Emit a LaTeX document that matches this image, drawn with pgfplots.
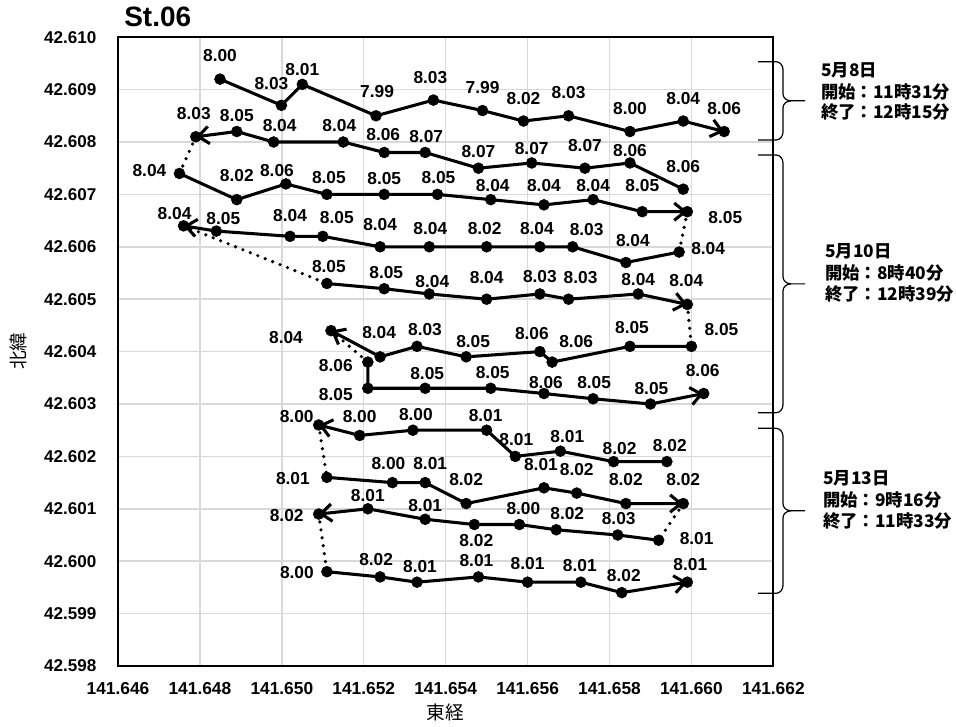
\documentclass[border=0pt]{standalone}
\usepackage{fontspec}
\setmainfont{Liberation Sans}
\newfontfamily\cjk{Noto Sans CJK JP}
\usepackage{xfp}
\usepackage{pgfplots}
\usepackage{pgfplotstable}
\pgfplotsset{compat=1.18}
\usetikzlibrary{arrows.meta}

\definecolor{gridgray}{RGB}{217,217,217}
\newcommand\lblfont{\bfseries\fontsize{13}{15}\selectfont}

% Survey track St.06: longitude, latitude, DO value/label offset (px, y up)
\pgfplotstableread{
lon lat lbl
141.64849 42.60920 8.00/0/24
141.64999 42.60870 8.03/-10/22
141.65050 42.60910 8.01/0/15
141.65230 42.60850 7.99/1/24
141.65370 42.60880 8.03/-3/23
141.65490 42.60860 7.99/0/23
141.65590 42.60840 8.02/0/23
141.65700 42.60850 8.03/0/23
141.65850 42.60820 8.00/0/23
141.65980 42.60840 8.04/0/23
141.66080 42.60820 8.06/0/23
}\trackA
\pgfplotstableread{
lon lat lbl
141.65980 42.60710 8.06/0/23
141.65850 42.60760 8.06/0/12
141.65740 42.60750 8.07/0/23
141.65610 42.60760 8.07/0/14
141.65480 42.60750 8.07/0/17
141.65350 42.60780 8.07/1/16
141.65250 42.60780 8.06/-1/18
141.65150 42.60800 8.04/-4/16
141.64980 42.60800 8.04/6/16
141.64890 42.60820 8.05/0/16
141.64790 42.60810 8.03/-2/23
}\trackB
\pgfplotstableread{
lon lat lbl
141.64750 42.60740 8.04/-30/3
141.64890 42.60690 8.02/0/24
141.65010 42.60720 8.06/-9/13
141.65110 42.60700 8.05/2/17
141.65250 42.60700 8.05/0/16
141.65380 42.60700 8.05/1/17
141.65510 42.60690 8.04/2/14
141.65640 42.60680 8.04/0/19
141.65760 42.60690 8.04/0/14
141.65880 42.60667 8.05/0/26
141.65990 42.60667 8.05/38/-6
}\trackC
\pgfplotstableread{
lon lat lbl
141.65970 42.60590 8.04/29/4
141.65840 42.60570 8.04/7/22
141.65710 42.60600 8.03/14/17
141.65630 42.60600 8.04/-3/18
141.65500 42.60600 8.02/-2/18
141.65360 42.60600 8.04/1/18
141.65240 42.60600 8.04/0/22
141.65100 42.60620 8.05/14/19
141.65020 42.60620 8.04/0/21
141.64840 42.60630 8.05/7/13
141.64760 42.60640 8.04/-9/12
}\trackD
\pgfplotstableread{
lon lat lbl
141.65110 42.60530 8.05/2/17
141.65250 42.60520 8.05/2/16
141.65360 42.60510 8.04/3/12
141.65500 42.60500 8.04/0/22
141.65630 42.60510 8.03/0/17
141.65700 42.60500 8.03/12/22
141.65870 42.60510 8.04/0/14
141.65990 42.60490 8.04/-1/24
}\trackE
\pgfplotstableread{
lon lat lbl
141.66000 42.60410 8.05/30/17
141.65850 42.60410 8.05/2/19
141.65660 42.60380 8.06/24/21
141.65630 42.60400 8.06/-8/18
141.65450 42.60390 8.05/7/15
141.65330 42.60410 8.03/8/17
141.65240 42.60390 8.04/-1/24
141.65120 42.60440 8.04/-45/-7
}\trackF
\pgfplotstableread{
lon lat lbl
141.65210 42.60380 8.06/-32/-3
141.65210 42.60330 8.05/-32/-6
141.65350 42.60330 8.05/2/15
141.65510 42.60330 8.05/2/16
141.65640 42.60320 8.06/2/11
141.65760 42.60310 8.05/1/16
141.65900 42.60300 8.05/1/15
141.66030 42.60320 8.06/-1/23
}\trackG
\pgfplotstableread{
lon lat lbl
141.65940 42.60190 8.02/3/16
141.65810 42.60190 8.02/6/13
141.65680 42.60210 8.01/7/15
141.65570 42.60200 8.01/1/17
141.65500 42.60250 8.01/-1/15
141.65320 42.60250 8.00/3/16
141.65190 42.60240 8.00/0/19
141.65090 42.60260 8.00/-22/8
}\trackH
\pgfplotstableread{
lon lat lbl
141.65110 42.60160 8.01/-34/-1
141.65270 42.60150 8.00/-4/19
141.65350 42.60150 8.01/5/19
141.65450 42.60110 8.02/0/24
141.65640 42.60140 8.01/-3/23
141.65720 42.60130 8.02/0/24
141.65840 42.60110 8.02/0/24
141.65980 42.60110 8.02/0/24
}\trackI
\pgfplotstableread{
lon lat lbl
141.65920 42.60040 8.01/38/2
141.65820 42.60050 8.03/1/16
141.65670 42.60060 8.02/11/16
141.65580 42.60070 8.00/4/16
141.65470 42.60070 8.02/2/-16
141.65350 42.60080 8.01/0/14
141.65210 42.60100 8.01/0/13
141.65090 42.60090 8.02/-32/-1
}\trackJ
\pgfplotstableread{
lon lat lbl
141.65110 42.59980 8.00/-30/-1
141.65240 42.59970 8.02/-4/17
141.65330 42.59960 8.01/3/16
141.65480 42.59970 8.01/-2/16
141.65600 42.59960 8.01/0/19
141.65730 42.59960 8.01/-1/17
141.65830 42.59940 8.02/2/17
141.65990 42.59960 8.01/3/18
}\trackK

% value label centred at an offset of (#2,#3) px from its point
\def\dolabel#1/#2/#3\relax{%
  \smash{\makebox[0pt]{\hspace*{\dimexpr 1.5pt*#2\relax}%
    \raisebox{\dimexpr 0.75pt*#3-0.5\fontcharht\font`8\relax}{#1}}}}

\pgfplotsset{
  track/.style={black, line width=2.3pt,
    -{Straight Barb[length=8pt,width=13pt]},
    mark=*, mark size=4.1pt, mark options={solid, fill=black, line width=0.4pt},
    point meta=explicit symbolic,
    nodes near coords={\expandafter\dolabel\pgfplotspointmeta\relax},
    nodes near coords style={font=\lblfont, anchor=center, inner sep=0pt}},
  hop/.style={black, line width=2.7pt, dash pattern=on 0pt off 6pt,
    line cap=round, no markers},
}

% shift the geographic coordinates to thousandths of a degree from the
% lower left corner, computed in l3fp so that no digits are lost
\newcommand\geoshift[3]{%
  \pgfmathfloatparsenumber{#1}%
  \pgfmathfloattosci{\pgfmathresult}%
  \edef\pgfmathresult{\fpeval{(\pgfmathresult-#2)*#3}}%
}

% right-hand curly bracket spanning one survey day (pixel units)
\newcommand\daybrace[2]{%
  \pgfmathsetmacro\bmid{(#1+#2)/2}%
  \draw[line width=0.9pt, line join=round]
    (758,#1) -- (776,#1) to[out=0,in=90] (783,#1+8) -- (783,\bmid-7)
    to[out=-90,in=180] (791,\bmid) -- (805,\bmid);
  \draw[line width=0.9pt, line join=round]
    (758,#2) -- (776,#2) to[out=0,in=-90] (783,#2-8) -- (783,\bmid+7)
    to[out=90,in=180] (791,\bmid);
}

\begin{document}
\begin{tikzpicture}
\useasboundingbox (0,0) rectangle (717pt,544.5pt);
\begin{axis}[
  at={(88.5pt,45pt)}, anchor=south west,
  scale only axis, width=491.5pt, height=471.6pt,
  x coord trafo/.code={\geoshift{#1}{141.646}{1000}},
  y coord trafo/.code={\geoshift{#1}{42.598}{1000}},
  xmin=141.646, xmax=141.662, ymin=42.598, ymax=42.610,
  xtick={141.646,141.648,141.650,141.652,141.654,141.656,141.658,141.660,141.662},
  xticklabels={141.646,141.648,141.650,141.652,141.654,141.656,141.658,141.660,141.662},
  ytick={42.598,42.599,42.600,42.601,42.602,42.603,42.604,42.605,42.606,42.607,42.608,42.609,42.610},
  yticklabels={42.598,42.599,42.600,42.601,42.602,42.603,42.604,42.605,42.606,42.607,42.608,42.609,42.610},
  xticklabel style={font=\bfseries\fontsize{13}{15}\selectfont, anchor=north, inner sep=0pt, yshift=-11.8pt},
  yticklabel style={font=\bfseries\fontsize{12.8}{15}\selectfont, anchor=east, inner sep=0pt, xshift=-16pt},
  major tick length=0pt,
  grid=major, major grid style={draw=gridgray, line width=1.1pt},
  axis line style={line width=1.4pt, black},
  clip=false,
]
% transfers between survey lines
\addplot[hop] coordinates {(141.64790,42.60810) (141.64750,42.60740)};
\addplot[hop] coordinates {(141.65990,42.60667) (141.65970,42.60590)};
\addplot[hop] coordinates {(141.64760,42.60640) (141.65110,42.60530)};
\addplot[hop] coordinates {(141.65990,42.60490) (141.66000,42.60410)};
\addplot[hop] coordinates {(141.65120,42.60440) (141.65210,42.60380)};
\addplot[hop] coordinates {(141.65090,42.60260) (141.65110,42.60160)};
\addplot[hop] coordinates {(141.65980,42.60110) (141.65920,42.60040)};
\addplot[hop] coordinates {(141.65090,42.60090) (141.65110,42.59980)};
% survey lines
\addplot[track] table[x=lon, y=lat, meta=lbl] {\trackA};
\addplot[track] table[x=lon, y=lat, meta=lbl] {\trackB};
\addplot[track] table[x=lon, y=lat, meta=lbl] {\trackC};
\addplot[track] table[x=lon, y=lat, meta=lbl] {\trackD};
\addplot[track] table[x=lon, y=lat, meta=lbl] {\trackE};
\addplot[track] table[x=lon, y=lat, meta=lbl] {\trackF};
\addplot[track] table[x=lon, y=lat, meta=lbl] {\trackG};
\addplot[track] table[x=lon, y=lat, meta=lbl] {\trackH};
\addplot[track] table[x=lon, y=lat, meta=lbl] {\trackI};
\addplot[track] table[x=lon, y=lat, meta=lbl] {\trackJ};
\addplot[track] table[x=lon, y=lat, meta=lbl] {\trackK};
\end{axis}

\begin{scope}[x=0.75pt, y=-0.75pt, yshift=544.5pt]
\node[anchor=base west, inner sep=0pt, font=\bfseries\fontsize{21}{24}\selectfont] at (124,27) {St.06};
\node[font=\cjk\fontsize{14}{16}\selectfont] at (445.5,712) {東経};
\node[rotate=90, font=\cjk\fontsize{14}{16}\selectfont] at (18,351) {北緯};
\daybrace{61.7}{140}
\daybrace{155}{412.7}
\daybrace{428.3}{593.3}
\begin{scope}[every node/.style={anchor=west, inner sep=0pt, font=\cjk\bfseries\fontsize{13}{15}\selectfont}]
\node at (821,70) {5月8日};
\node at (821,91.7) {開始：11時31分};
\node at (821,112) {終了：12時15分};
\node at (825,251) {5月10日};
\node at (825,273) {開始：8時40分};
\node at (825,294) {終了：12時39分};
\node at (823,478) {5月13日};
\node at (823,500) {開始：9時16分};
\node at (823,521) {終了：11時33分};
\end{scope}
\end{scope}
\end{tikzpicture}
\end{document}
